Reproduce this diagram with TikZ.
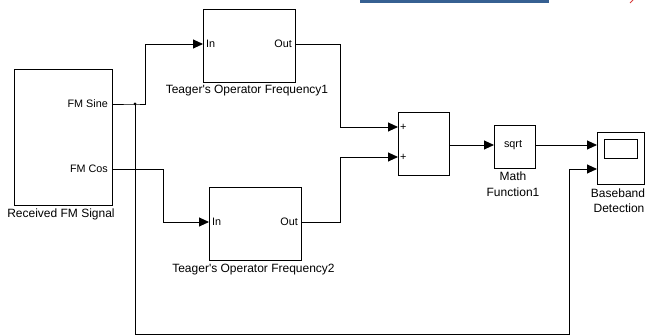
\documentclass[tikz,border=0pt]{standalone}
\usepackage{fontspec}
\setmainfont{Liberation Sans}
\newfontfamily\plainsans{Liberation Sans}
\usetikzlibrary{arrows.meta}
\definecolor{hdrblue}{RGB}{54,96,146}
\definecolor{redmark}{RGB}{215,60,60}
\begin{document}
\begin{tikzpicture}[x=1pt,y=-1pt,
  blk/.style={draw,line width=0.9pt,inner sep=0pt,fill=white},
  wire/.style={line width=0.9pt},
  sig/.style={wire,-{Triangle[length=10pt,width=9pt]}},
  lbl/.style={font=\plainsans\fontsize{12}{13}\selectfont,inner sep=0pt},
  prt/.style={font=\plainsans\fontsize{10.8}{12}\selectfont,inner sep=0pt}]
\useasboundingbox (0,0) rectangle (646,336);
% header remnants
\draw[hdrblue,line width=3pt] (360,2) -- (549,2);
\draw[redmark,line width=1pt] (630,3) -- (633,0);
% blocks
\node[blk,minimum width=98pt,minimum height=136pt] (rx) at (63,137) {};
\node[blk,minimum width=92pt,minimum height=73pt] (t1) at (249,45.5) {};
\node[blk,minimum width=92pt,minimum height=73pt] (t2) at (255,223.5) {};
\node[blk,minimum width=51pt,minimum height=63pt] (sum) at (423.5,143.5) {};
\node[blk,minimum width=41pt,minimum height=43pt] (mf) at (514.5,146.5) {};
\node[blk,minimum width=47pt,minimum height=52pt] (sc) at (620.5,158) {};
\node[blk,minimum width=33pt,minimum height=19pt] (scr) at (620.5,148.5) {};
% ports
\coordinate (sineO) at (112,104);
\coordinate (cosO) at (112,169);
\coordinate (t1I) at (203,44);
\coordinate (t1O) at (295,44);
\coordinate (t2I) at (209,222);
\coordinate (t2O) at (301,222);
\coordinate (sumI1) at (398,127);
\coordinate (sumI2) at (398,157);
\coordinate (sumO) at (449,145);
\coordinate (mfI) at (494,145);
\coordinate (mfO) at (535,145);
\coordinate (scI1) at (597,145);
\coordinate (scI2) at (597,169);
\coordinate (jn) at (135,104);
% port labels
\node[prt,anchor=east] (lsine) at (108,104) {FM Sine};
\node[prt,anchor=east] (lcos) at (108,169) {FM Cos};
\node[prt,anchor=west] (li1) at (206,44) {In};
\node[prt,anchor=east] (lo1) at (292,44) {Out};
\node[prt,anchor=west] (li2) at (212,222) {In};
\node[prt,anchor=east] (lo2) at (298,222) {Out};
\node[prt,anchor=west] (lp1) at (400,127) {+};
\node[prt,anchor=west] (lp2) at (400,157) {+};
\node[prt] (lsq) at (513,145) {sqrt};
% block labels
\node[lbl] (nrx) at (61,214) {Received FM Signal};
\node[lbl] (nt1) at (247,91) {Teager's Operator Frequency1};
\node[lbl] (nt2) at (253.5,269.5) {Teager's Operator Frequency2};
\node[lbl] (nmf1) at (513,176) {Math};
\node[lbl] (nmf2) at (513,192) {Function1};
\node[lbl] (nsc1) at (618,193) {Baseband};
\node[lbl] (nsc2) at (619,208.5) {Detection};
% wires
\draw[sig] (sineO) -- (jn) -- (145,104) -- (145,44) -- (t1I);
\fill (jn) circle (1.5pt);
\draw[sig] (jn) -- (135,334) -- (569,334) -- (569,169) -- (scI2);
\draw[sig] (cosO) -- (163,169) -- (163,222) -- (t2I);
\draw[sig] (t1O) -- (340,44) -- (340,127) -- (sumI1);
\draw[sig] (t2O) -- (340,222) -- (340,157) -- (sumI2);
\draw[sig] (sumO) -- (mfI);
\draw[sig] (mfO) -- (scI1);
\end{tikzpicture}
\end{document}
